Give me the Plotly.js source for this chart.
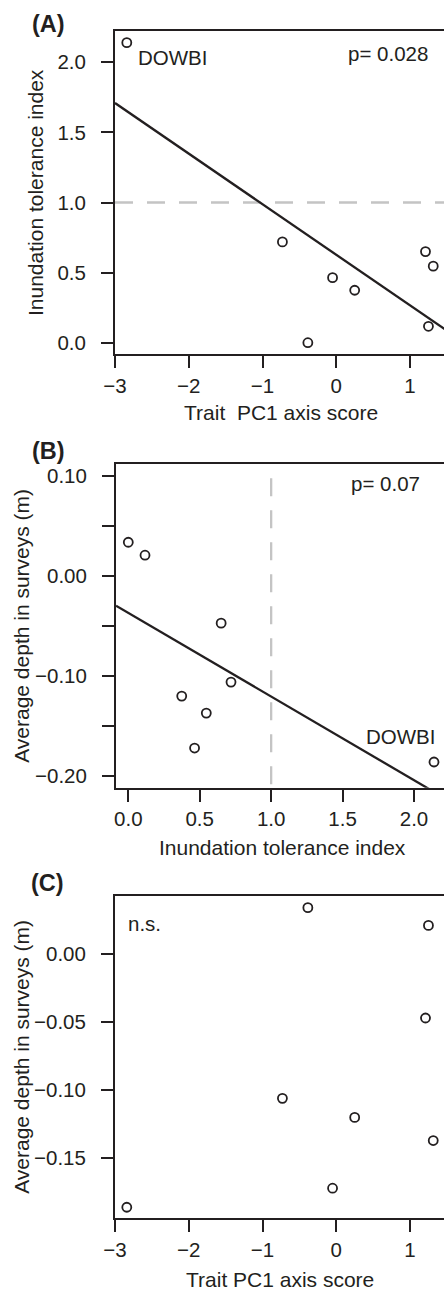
<!DOCTYPE html>
<html>
<head>
<meta charset="utf-8">
<script src="https://cdn.plot.ly/plotly-3.0.1.min.js"></script>
<style>
html, body { margin: 0; padding: 0; overflow: hidden; background: #ffffff; }
#chart { width: 460px; height: 1291px; }
</style>
</head>
<body>
<div id="chart"></div>
<script>
// ---- data ----
const speciesLabel = ["DOWBI", "", "", "", "", "", "", ""];
const traitPC1 = [-2.84, -0.73, -0.05, 0.25, -0.385, 1.21, 1.315, 1.25];
const inundationIndex = [2.14, 0.719, 0.464, 0.374, 0.0, 0.650, 0.546, 0.117];
const avgDepth = [-0.186, -0.106, -0.172, -0.120, 0.034, -0.047, -0.137, 0.021];
const toleranceThreshold = 1.0;

const pcTickVals = [-3, -2, -1, 0, 1];
const pcTickText = ["\u22123", "\u22122", "\u22121", "0", "1"];
const itiTickVals = [0, 0.5, 1, 1.5, 2];
const itiTickText = ["0.0", "0.5", "1.0", "1.5", "2.0"];
const depthTickValsB = [0.10, 0.05, 0.00, -0.05, -0.10, -0.15, -0.20];
const depthTickTextB = ["0.10", "", "0.00", "", "\u22120.10", "", "\u22120.20"];
const depthTickValsC = [0.00, -0.05, -0.10, -0.15];
const depthTickTextC = ["0.00", "\u22120.05", "\u22120.10", "\u22120.15"];

const pLabelA = "p= 0.028";
const pLabelB = "p= 0.07";
const pLabelC = "n.s.";

// ---- helpers ----
function ols(x, y) {
  const n = x.length;
  const mx = x.reduce((a, b) => a + b, 0) / n;
  const my = y.reduce((a, b) => a + b, 0) / n;
  let sxy = 0, sxx = 0;
  for (let i = 0; i < n; i++) { sxy += (x[i] - mx) * (y[i] - my); sxx += (x[i] - mx) ** 2; }
  const m = sxy / sxx;
  return { m: m, b: my - m * mx };
}

const W = 460, H = 1291;
const ink = "#231f20";
const FONT = "Liberation Sans, Arial, sans-serif";

const rangeXA = [-3, 1.488];
const rangeYA = [-0.0806, 2.2233];
const rangeXB = [-0.0861, 2.224];
const rangeYB = [-0.2117, 0.112];
const rangeXC = [-3, 1.488];
const rangeYC = [-0.1941, 0.0428];

const fitA = ols(traitPC1, inundationIndex);
const fitB = ols(inundationIndex, avgDepth);

const markerStyle = { symbol: "circle-open", size: 9, color: ink, line: { width: 1.8, color: ink } };
const lineStyle = { color: ink, width: 2.3 };

const traces = [
  { x: traitPC1, y: inundationIndex, mode: "markers", marker: markerStyle, xaxis: "x", yaxis: "y" },
  { x: rangeXA, y: rangeXA.map(v => fitA.b + fitA.m * v), mode: "lines", line: lineStyle, xaxis: "x", yaxis: "y" },
  { x: inundationIndex, y: avgDepth, mode: "markers", marker: markerStyle, xaxis: "x2", yaxis: "y2" },
  { x: rangeXB, y: rangeXB.map(v => fitB.b + fitB.m * v), mode: "lines", line: lineStyle, xaxis: "x2", yaxis: "y2" },
  { x: traitPC1, y: avgDepth, mode: "markers", marker: markerStyle, xaxis: "x3", yaxis: "y3" }
];

function axisBase(extra) {
  return Object.assign({
    showline: true, linecolor: ink, linewidth: 2, mirror: true,
    ticks: "outside", ticklen: 12, tickwidth: 2, tickcolor: ink,
    showgrid: false, zeroline: false, tickmode: "array",
    tickfont: { family: FONT, size: 20.5, color: ink },
    fixedrange: true
  }, extra);
}
const yStand = 11;

const px = v => v / W;
const py = v => 1 - v / H;

const domXA = [px(115), px(446)];
const domXB = [px(116), px(446)];
const domYA = [py(354), py(31)];
const domYB = [py(787.7), py(464.3)];
const domYC = [py(1218.3), py(895.7)];

const titleFont = { family: FONT, size: 21, color: ink };
const textFont = { family: FONT, size: 20.5, color: ink };
const panelFont = { family: FONT, size: 23.5, color: ink };

function paperText(text, x, y, font, extra) {
  return Object.assign({ text: text, xref: "paper", yref: "paper", x: px(x), y: py(y),
    xanchor: "center", yanchor: "middle", showarrow: false, font: font }, extra || {});
}

const annotations = [
  // panel labels
  paperText("<b>(A)</b>", 48.3, 23.7, panelFont),
  paperText("<b>(B)</b>", 48.7, 451.3, panelFont),
  paperText("<b>(C)</b>", 47.8, 883.3, panelFont),
  // axis titles
  paperText("Trait  PC1 axis score", 280.5, 413, titleFont),
  paperText("Inundation tolerance index", 282.5, 847, titleFont),
  paperText("Trait PC1 axis score", 280, 1279.5, titleFont),
  paperText("Inundation tolerance index", 35.5, 192.5, titleFont, { textangle: -90 }),
  paperText("Average depth in surveys (m)", 20.8, 626, titleFont, { textangle: -90 }),
  paperText("Average depth in surveys (m)", 20.8, 1057, titleFont, { textangle: -90 }),
  // in-panel text
  { text: pLabelA, xref: "x domain", yref: "y domain", x: 0.9517, y: (354 - 53) / 323,
    xanchor: "right", yanchor: "middle", showarrow: false, font: textFont },
  { text: pLabelB, xref: "x2 domain", yref: "y2 domain", x: (422 - 116) / 330, y: (787.7 - 483.3) / 323.4,
    xanchor: "right", yanchor: "middle", showarrow: false, font: textFont },
  { text: pLabelC, xref: "x3 domain", yref: "y3 domain", x: (126 - 115) / 331, y: (1218.3 - 923.8) / 322.6,
    xanchor: "left", yanchor: "middle", showarrow: false, font: textFont },
  // species label
  { text: speciesLabel[0], xref: "x", yref: "y", x: traitPC1[0], y: inundationIndex[0],
    xanchor: "left", yanchor: "middle", xshift: 9, yshift: -14.5, showarrow: false, font: textFont },
  { text: speciesLabel[0], xref: "x2", yref: "y2", x: inundationIndex[0], y: avgDepth[0],
    xanchor: "right", yanchor: "middle", xshift: 2.5, yshift: 26, showarrow: false, font: textFont }
];

const dashLine = { color: "#c4c4c4", width: 2.3, dash: "18px,14px" };
const shapes = [
  { type: "line", xref: "x domain", yref: "y", x0: 0, x1: 1, y0: toleranceThreshold, y1: toleranceThreshold, line: dashLine, layer: "below" },
  { type: "line", xref: "x2", yref: "y2 domain", x0: toleranceThreshold, x1: toleranceThreshold, y0: 1, y1: 0,
    line: { color: "#c4c4c4", width: 2.3, dash: "0px,14px,18px,0px" }, layer: "below" }
];

const layout = {
  width: W, height: H,
  margin: { l: 0, r: 0, t: 0, b: 0 },
  paper_bgcolor: "#ffffff", plot_bgcolor: "#ffffff",
  showlegend: false,
  font: { family: FONT, color: ink },
  xaxis: axisBase({ domain: domXA, range: rangeXA, tickvals: pcTickVals, ticktext: pcTickText, anchor: "y" }),
  yaxis: axisBase({ domain: domYA, range: rangeYA, tickvals: itiTickVals, ticktext: itiTickText, anchor: "x", ticklabelstandoff: yStand }),
  xaxis2: axisBase({ domain: domXB, range: rangeXB, tickvals: itiTickVals, ticktext: itiTickText, anchor: "y2" }),
  yaxis2: axisBase({ domain: domYB, range: rangeYB, tickvals: depthTickValsB, ticktext: depthTickTextB, anchor: "x2", ticklabelstandoff: yStand }),
  xaxis3: axisBase({ domain: domXA, range: rangeXC, tickvals: pcTickVals, ticktext: pcTickText, anchor: "y3" }),
  yaxis3: axisBase({ domain: domYC, range: rangeYC, tickvals: depthTickValsC, ticktext: depthTickTextC, anchor: "x3", ticklabelstandoff: yStand }),
  annotations: annotations,
  shapes: shapes
};

Plotly.newPlot("chart", traces, layout, { staticPlot: true, displayModeBar: false });
</script>
</body>
</html>
